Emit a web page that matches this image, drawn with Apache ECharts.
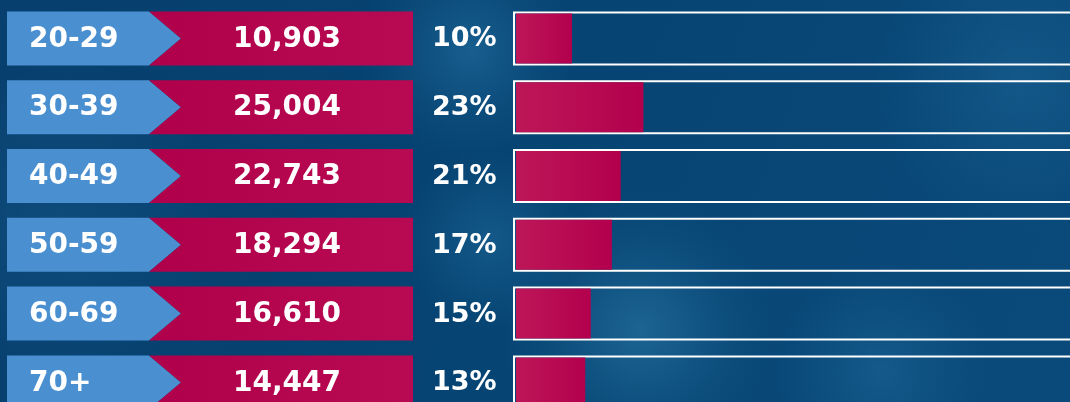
<html>
<head>
<meta charset="UTF-8">
<title>Age groups</title>
<style>
html, body { margin: 0; padding: 0; background: #0b4775; }
#chart { width: 1070px; height: 402px; }
</style>
<script type="text/javascript" src="https://cdn.jsdelivr.net/npm/echarts@6.0.0/dist/echarts.min.js"></script>
</head>
<body>
<div id="chart"></div>
<script type="text/javascript">
// 数据
var ageGroups = ['20-29', '30-39', '40-49', '50-59', '60-69', '70+'];
var counts = [10903, 25004, 22743, 18294, 16610, 14447];
var pctLabels = ['10%', '23%', '21%', '17%', '15%', '13%'];
// 右侧进度条填充长度（按图读取，0-100）
var barFill = [10.1, 23.0, 18.9, 17.3, 13.5, 12.5];

var textFont = '"DejaVu Sans", sans-serif';

function fmt(n) {
	return String(n).replace(/\B(?=(\d{3})+(?!\d))/g, ',');
}

// 背景上的浅色光斑
function blob(cx, cy, rx, ry, color) {
	return {
		type: 'ellipse',
		silent: true,
		z: -10,
		shape: { cx: cx, cy: cy, rx: rx, ry: ry },
		style: {
			fill: {
				type: 'radial', x: 0.5, y: 0.5, r: 0.5,
				colorStops: [
					{ offset: 0, color: color },
					{ offset: 0.6, color: color.replace(/[\d.]+\)$/, '0.15)') },
					{ offset: 1, color: 'rgba(30,110,160,0)' }
				]
			}
		}
	};
}

function renderRow(params, api) {
	var idx = api.value(0);
	var c = api.coord([0, idx])[1];
	var end = api.coord([api.value(1), idx])[0];
	var x0 = api.coord([0, idx])[0];
	var h = 54;
	return {
		type: 'group',
		children: [
			{
				type: 'polygon',
				shape: { points: [[7, c - h / 2], [149, c - h / 2], [181, c], [149, c + h / 2], [7, c + h / 2]] },
				style: { fill: '#4a8fcf' }
			},
			{
				type: 'polygon',
				shape: { points: [[149, c - h / 2], [413, c - h / 2], [413, c + h / 2], [149, c + h / 2], [181, c]] },
				style: {
					fill: {
						type: 'linear', x: 0, y: 0, x2: 1, y2: 0,
						colorStops: [{ offset: 0, color: '#b0004b' }, { offset: 1, color: '#b80a52' }]
					}
				}
			},
			{
				type: 'rect',
				shape: { x: 514, y: c - 26, width: 600, height: 52 },
				style: { fill: null, stroke: '#ffffff', lineWidth: 2 }
			},
			{
				type: 'rect',
				shape: { x: x0, y: c - 25, width: end - x0, height: 50 },
				style: {
					fill: {
						type: 'linear', x: 0, y: 0, x2: 1, y2: 0,
						colorStops: [{ offset: 0, color: '#bd1758' }, { offset: 1, color: '#b3004d' }]
					}
				}
			},
			{
				type: 'text',
				style: {
					x: 29, y: c + 1, text: ageGroups[idx], fill: '#fff',
					font: 'bold 28px ' + textFont, textAlign: 'left', textVerticalAlign: 'middle'
				}
			},
			{
				type: 'text',
				style: {
					x: 341, y: c + 1, text: fmt(counts[idx]), fill: '#fff',
					font: 'bold 28px ' + textFont, textAlign: 'right', textVerticalAlign: 'middle'
				}
			},
			{
				type: 'text',
				style: {
					x: 432, y: c + 1, text: pctLabels[idx], fill: '#fff',
					font: 'bold 27px ' + textFont, textAlign: 'left', textVerticalAlign: 'middle'
				}
			}
		]
	};
}

var rowData = [];
for (var i = 0; i < ageGroups.length; i++) {
	rowData.push([i, barFill[i]]);
}

var myChart = echarts.init(document.getElementById('chart'));
var option = {
	backgroundColor: {
		type: 'linear', x: 0, y: 0, x2: 1, y2: 1,
		colorStops: [
			{ offset: 0, color: '#073f6e' },
			{ offset: 0.5, color: '#064473' },
			{ offset: 1, color: '#0a4a7a' }
		]
	},
	animation: false,
	graphic: [
		blob(470, 50, 200, 110, 'rgba(40,120,170,0.5)'),
		blob(640, 330, 260, 140, 'rgba(45,125,170,0.55)'),
		blob(490, 240, 90, 220, 'rgba(40,120,170,0.4)'),
		blob(1020, 80, 220, 150, 'rgba(35,110,160,0.4)'),
		blob(880, 370, 280, 110, 'rgba(35,115,165,0.4)'),
		blob(60, 220, 160, 260, 'rgba(30,100,150,0.3)')
	],
	// boundaryGap 为 false 时首尾类目落在网格上下边
	grid: { left: 516, width: 566, top: 38.4, height: 344 },
	xAxis: { type: 'value', min: 0, max: 100, show: false },
	yAxis: { type: 'category', data: ageGroups, inverse: true, boundaryGap: false, show: false },
	series: [{
		type: 'custom',
		renderItem: renderRow,
		encode: { x: 1, y: 0 },
		data: rowData
	}]
};
myChart.setOption(option);
</script>
</body>
</html>
